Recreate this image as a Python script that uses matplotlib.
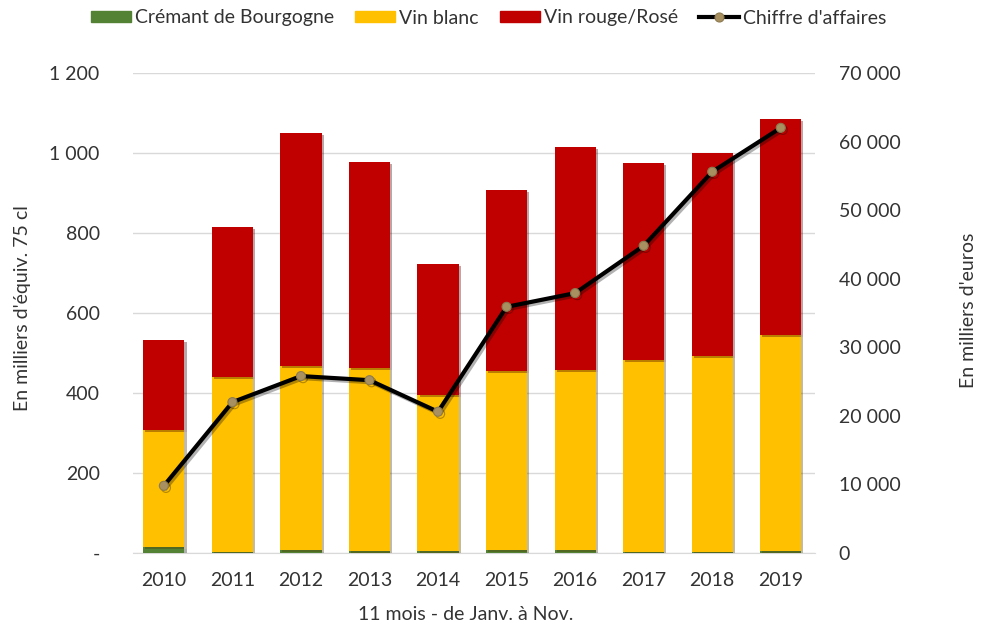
import numpy as np
import matplotlib.pyplot as plt
import matplotlib.patheffects as pe
from matplotlib.patches import Patch
from matplotlib.lines import Line2D

plt.rcParams['font.family'] = ['Lato', 'DejaVu Sans']

# ---------------------------
# Données
# ---------------------------
annees = ["2010", "2011", "2012", "2013", "2014", "2015", "2016", "2017", "2018", "2019"]
cremant = [15, 2, 8, 6, 5, 7, 7, 2, 3, 4]
vin_blanc = [292, 438, 459, 456, 390, 448, 450, 480, 489, 541]
vin_rouge = [225, 375, 583, 515, 327, 452, 558, 493, 508, 540]
chiffre_affaires = [9800, 22000, 25800, 25200, 20600, 35900, 37900, 44800, 55600, 62000]

gauche_ticks = [0, 200, 400, 600, 800, 1000, 1200]
gauche_labels = ["-", "200", "400", "600", "800", "1 000", "1 200"]
droite_ticks = [0, 10000, 20000, 30000, 40000, 50000, 60000, 70000]
droite_labels = ["0", "10 000", "20 000", "30 000", "40 000", "50 000", "60 000", "70 000"]

vert = "#548235"
jaune = "#FFC000"
rouge = "#C00000"
texte = "#333333"
fs = 14

# ---------------------------
# Figure
# ---------------------------
fig = plt.figure(figsize=(9.81, 6.26), dpi=100)
ax = fig.add_axes([0.1356, 0.1166, 0.6952, 0.7668])
x = np.arange(len(annees))
ombre = [pe.SimplePatchShadow(offset=(1.5, -1.5), alpha=0.35), pe.Normal()]

ax.bar(x, cremant, 0.6, color=vert, zorder=3, path_effects=ombre)
ax.bar(x, vin_blanc, 0.6, bottom=cremant, color=jaune, zorder=3, path_effects=ombre)
bas = np.array(cremant) + np.array(vin_blanc)
ax.bar(x, vin_rouge, 0.6, bottom=bas, color=rouge, zorder=3, path_effects=ombre)

ax.set_xlim(-0.45, 9.5)
ax.set_ylim(0, 1200)
ax.set_yticks(gauche_ticks)
ax.set_yticklabels(gauche_labels)
ax.set_xticks(x)
ax.set_xticklabels(annees)
ax.grid(axis="y", color="#D9D9D9", lw=1, zorder=0)
for s in ["top", "left", "right"]:
    ax.spines[s].set_visible(False)
ax.spines["bottom"].set_color("#D9D9D9")
ax.tick_params(length=0, labelsize=fs, colors=texte)
ax.tick_params(axis="x", pad=14)
ax.tick_params(axis="y", pad=24)

ax2 = ax.twinx()
ax2.set_ylim(0, 70000)
ax2.plot(x, chiffre_affaires, color="black", lw=3, marker="o", ms=6.5,
         mfc="#A89060", mec="#8C7A50", mew=0.8, zorder=5,
         path_effects=[pe.SimpleLineShadow(offset=(1.5, -1.5), alpha=0.3), pe.Normal()])
ax2.set_yticks(droite_ticks)
ax2.set_yticklabels(droite_labels)
for s in ["top", "left", "right", "bottom"]:
    ax2.spines[s].set_visible(False)
ax2.tick_params(length=0, labelsize=fs, colors=texte, pad=17)

# titres des axes
fig.text(23 / 981, 1 - 308 / 626, "En milliers d'équiv. 75 cl", rotation=90,
         ha="center", va="center", fontsize=fs, color=texte)
fig.text(968 / 981, 1 - 310 / 626, "En milliers d'euros", rotation=90,
         ha="center", va="center", fontsize=fs, color=texte)
fig.text(0.4745, 1 - 614 / 626, "11 mois - de Janv. à Nov.",
         ha="center", va="center", fontsize=fs, color=texte)

# légende (sans ombre)
poignees = [Patch(color=vert), Patch(color=jaune), Patch(color=rouge),
            Line2D([], [], color="black", lw=3, marker="o", ms=6.5,
                   mfc="#A89060", mec="#8C7A50", mew=0.8)]
fig.legend(poignees,
           ["Crémant de Bourgogne", "Vin blanc", "Vin rouge/Rosé", "Chiffre d'affaires"],
           loc="center", bbox_to_anchor=(0.498, 1 - 18 / 626), ncol=4, frameon=False,
           fontsize=fs, handlelength=2.05, handleheight=0.55, handletextpad=0.2,
           columnspacing=1.1, labelcolor=texte, borderpad=0)

fig.savefig("out.png", dpi=100)
